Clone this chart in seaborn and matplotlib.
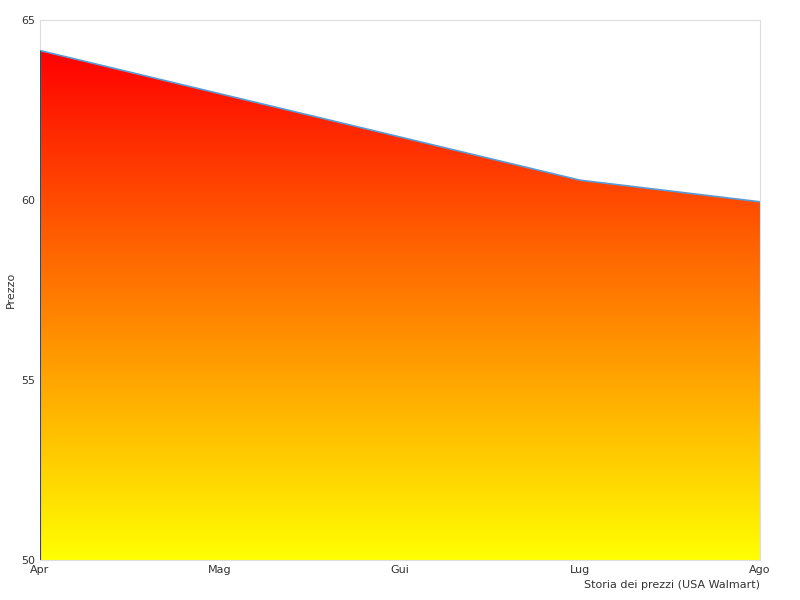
import matplotlib
matplotlib.use("Agg")
import matplotlib.pyplot as plt
import seaborn as sns
import numpy as np
import pandas as pd
from matplotlib.colors import LinearSegmentedColormap

months = ["Apr", "Mag", "Gui", "Lug", "Ago"]
prices = [64.15, 62.95, 61.75, 60.55, 59.95]
yticks = [50, 55, 60, 65]

sns.set_style("white")
df = pd.DataFrame({"x": range(len(months)), "price": prices})

fig = plt.figure(figsize=(8, 6), dpi=100)
ax = fig.add_axes([0.05, 0.0667, 0.9, 0.9])
sns.lineplot(data=df, x="x", y="price", ax=ax, color="#5b9bd5", linewidth=1.2, zorder=3)
poly = ax.fill_between(df["x"], prices, 50, color="none")
cmap = LinearSegmentedColormap.from_list("ry", ["#ffff00", "#ff8000", "#ff0000"])
grad = np.linspace(0, 1, 256).reshape(-1, 1)
im = ax.imshow(grad, extent=[0, len(months) - 1, 50, max(prices)], origin="lower",
               aspect="auto", cmap=cmap, zorder=2)
path = poly.get_paths()[0]
im.set_clip_path(path, transform=ax.transData)
ax.plot([0, 0], [50, prices[0]], color="#444444", linewidth=0.8, zorder=3)

ax.set_xlim(0, len(months) - 1)
ax.set_ylim(50, 65)
ax.set_xticks(range(len(months)))
ax.set_xticklabels(months)
ax.set_yticks(yticks)
ax.tick_params(labelsize=8, colors="#333333", length=0)
for s in ax.spines.values():
    s.set_color("#dddddd")
ax.set_xlabel("Storia dei prezzi (USA Walmart)", fontsize=8, color="#333333", loc="right")
ax.set_ylabel("Prezzo", fontsize=8, color="#333333")
fig.savefig("out.png", dpi=100)
